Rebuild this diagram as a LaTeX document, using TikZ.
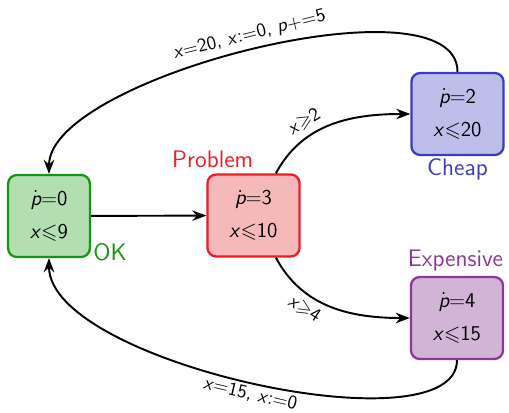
\documentclass[tikz,border=0pt]{standalone}
\usepackage{amssymb}
\usetikzlibrary{arrows.meta}

\definecolor{okdraw}{RGB}{20,150,20}
\definecolor{okfill}{RGB}{178,222,178}
\definecolor{prdraw}{RGB}{232,30,40}
\definecolor{prfill}{RGB}{245,185,185}
\definecolor{chdraw}{RGB}{60,60,190}
\definecolor{chfill}{RGB}{190,190,235}
\definecolor{exdraw}{RGB}{140,55,150}
\definecolor{exfill}{RGB}{210,180,215}

% 変数
\newcommand{\vx}{\textit{x}}
\newcommand{\vp}{\textit{p}}
\newcommand{\pdot}{$\dot{\textit{p}}$}
\newcommand{\sle}{$\leqslant$}
\newcommand{\sge}{$\geqslant$}

\tikzset{
  loc/.style={draw, line width=1.3pt, rounded corners=5pt, align=center,
    font=\sffamily\fontsize{12}{15}\selectfont,
    minimum height=1.64cm, inner xsep=0.44cm},
  loclabel/.style={font=\sffamily\fontsize{13.6}{16}\selectfont, inner sep=0pt},
  trans/.style={->, line width=1.1pt},
  guard/.style={font=\sffamily\fontsize{10.8}{13}\selectfont, sloped},
}

\begin{document}
\begin{tikzpicture}[>={Stealth[length=8pt]}, font=\sffamily]
  \useasboundingbox (0,0) rectangle (10.18,-8.26);
  % ロケーション
  \node[loc, draw=okdraw, fill=okfill] (ok) at (0.98,-4.32) {\pdot=0\\[4pt]\vx\sle9};
  \node[loc, draw=prdraw, fill=prfill] (problem) at (5.07,-4.31) {\pdot=3\\[4pt]\vx\sle10};
  \node[loc, draw=chdraw, fill=chfill] (cheap) at (9.15,-2.28) {\pdot=2\\[4pt]\vx\sle20};
  \node[loc, draw=exdraw, fill=exfill] (expensive) at (9.14,-6.36) {\pdot=4\\[4pt]\vx\sle15};
  % ロケーション名
  \node[loclabel, text=okdraw, anchor=base west] (oklbl) at ([xshift=0.04cm,yshift=-0.04cm]ok.south east) {OK};
  \node[loclabel, text=prdraw, anchor=base east] (problemlbl) at ([yshift=0.12cm]problem.north) {Problem};
  \node[loclabel, text=chdraw, anchor=base] (cheaplbl) at ([yshift=-0.38cm]cheap.south) {Cheap};
  \node[loclabel, text=exdraw, anchor=base] (expensivelbl) at ([xshift=-0.03cm,yshift=0.18cm]expensive.north) {Expensive};
  % 遷移
  \draw[trans] (ok) -- (problem);
  \draw[trans] (problem.62) to[out=62,in=180] node[guard, above, pos=0.35] {\vx\sge2} (cheap.west);
  \draw[trans] (problem.-62) to[out=-62,in=180] node[guard, below, pos=0.35] {\vx\sge4} (expensive.west);
  \draw[trans] (cheap.north) .. controls +(0,1.96) and +(0,1.94) .. node[guard, above=0pt] {\vx=20, \vx:=0, \vp+=5} (ok.north);
  \draw[trans] (expensive.south) .. controls +(0,-1.82) and +(0,-2.1) .. node[guard, below=-1.5pt] {\vx=15, \vx:=0} (ok.south);
\end{tikzpicture}
\end{document}
